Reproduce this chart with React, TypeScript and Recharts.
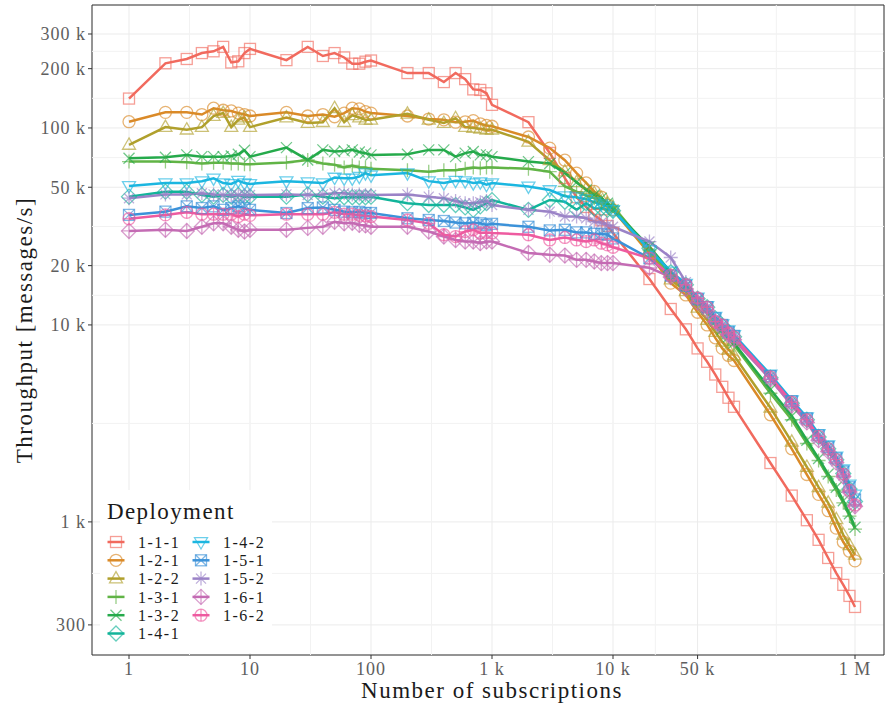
import React from "react";
import {
  LineChart,
  Line,
  XAxis,
  YAxis,
  CartesianGrid,
  ReferenceLine,
  ReferenceArea,
  Legend,
} from "recharts";

const SERIF = "'Liberation Serif', 'DejaVu Serif', serif";

// number of subscriptions (x)
const subscriptions = [
  1, 2, 3, 4, 5, 6, 7, 8, 9,
  10, 20, 30, 40, 50, 60, 70, 80, 90,
  100, 200, 300, 400, 500, 600, 700, 800, 900,
  1000, 2000, 3000, 4000, 5000, 6000, 7000, 8000, 9000,
  10000, 20000, 30000, 40000, 50000, 60000, 70000, 80000, 90000,
  100000, 200000, 300000, 400000, 500000, 600000, 700000, 800000, 900000,
  1000000,
];

// throughput in thousands of messages/s
const dep111 = [141, 213, 224, 240, 245, 258, 215, 218, 240, 252, 221, 258, 232, 240, 228, 212, 212, 217, 220, 190, 190, 171, 190, 177, 157, 156, 150, 131, 107, 74.7, 55.7, 44.5, 39.7, 36.2, 34, 31.8, 29.3, 17.1, 12.05, 9.5, 7.6, 6.5, 5.6, 4.85, 4.27, 3.84, 1.99, 1.36, 1.02, 0.811, 0.656, 0.55, 0.479, 0.421, 0.37];
const dep121 = [107.6, 120, 120, 117, 126, 123, 122, 119, 117, 115, 120, 115, 117, 114, 119, 126, 125, 121, 119, 115, 111, 110, 107, 107.5, 109, 105, 103, 102, 90, 79, 68.6, 59, 52.6, 47.6, 44.6, 40.6, 38.4, 23, 16.3, 14.2, 11.6, 10, 8.6, 7.6, 7.0, 6.6, 3.5, 2.35, 1.74, 1.38, 1.14, 0.93, 0.79, 0.71, 0.634];
const dep122 = [82, 101, 98, 101, 115, 119, 101, 110, 113, 101, 113, 106, 107, 126, 107, 116, 113, 110, 110, 118, 110, 106, 112, 101, 100, 99, 98, 98, 85, 68.6, 60, 53, 49, 46.6, 44, 41.5, 39.2, 23.5, 17, 14.8, 12.2, 10.6, 9.2, 8.2, 7.5, 7.0, 3.8, 2.55, 1.9, 1.5, 1.25, 1.03, 0.86, 0.76, 0.68];
const dep131 = [67.5, 67.5, 67, 66, 66.5, 66.5, 66, 66, 65.5, 65.5, 66.7, 68.8, 66, 65, 63, 64.5, 63, 63, 62, 61, 60, 61, 61, 62, 63, 62.5, 63, 63, 62, 60, 50.5, 47.5, 45.5, 44, 42.5, 41, 40, 24, 18, 15.3, 13, 11.6, 10.2, 9.2, 8.5, 7.9, 4.5, 3.3, 2.5, 2.05, 1.7, 1.45, 1.25, 1.07, 0.92];
const dep132 = [70.2, 71, 73, 71.5, 71.5, 71.5, 72, 73.5, 77, 71.5, 79.5, 68.8, 77.4, 76, 76.5, 77.4, 75.5, 74.5, 73, 73.5, 77.4, 77.4, 71.5, 74.5, 76, 73, 73, 71.5, 67.5, 66, 59, 53, 48.4, 45.7, 44, 41.5, 38.4, 25, 18.5, 15.8, 13.4, 12, 10.5, 9.5, 8.7, 8.1, 4.7, 3.45, 2.6, 2.1, 1.75, 1.5, 1.28, 1.1, 0.94];
const dep141 = [44.8, 47.5, 47.5, 45.7, 44.8, 45.7, 44.8, 45.7, 44.8, 44.8, 44.8, 46, 44.8, 44, 44.5, 44.5, 44.5, 44.5, 44.8, 41.5, 40.6, 40.6, 40.6, 39.5, 38.4, 40, 41.5, 43, 38.4, 43.1, 42.2, 38.4, 41.5, 39, 39, 38.4, 38, 24.5, 18.5, 16, 13.6, 12.3, 10.8, 9.9, 9.2, 8.7, 5.4, 4.0, 3.3, 2.7, 2.35, 2.07, 1.76, 1.47, 1.27];
const dep142 = [50.8, 52.5, 52.5, 53.7, 55.5, 52.5, 52, 54, 52.5, 52, 53.7, 53, 52.5, 56, 55.5, 55.5, 56.6, 59, 57.5, 59, 53.7, 52.5, 54, 53.7, 52.5, 53, 51.5, 52.5, 50.5, 48.4, 45, 44.5, 43.5, 42, 41, 40, 38.4, 24, 18.7, 16.2, 13.8, 12.5, 11, 10.1, 9.4, 8.9, 5.6, 4.15, 3.4, 2.8, 2.45, 2.15, 1.85, 1.55, 1.38];
const dep151 = [36.2, 37.6, 40, 39.2, 40, 38.4, 39.2, 40, 39.2, 38.4, 37, 39.2, 39.5, 38.4, 37.6, 37.3, 37.5, 37, 37, 34.8, 34.1, 33.7, 33.1, 32.8, 33, 32.8, 32.2, 32.6, 31.5, 30.2, 30.4, 29.5, 29.5, 29, 29, 28.7, 27.5, 21.8, 17.8, 15.8, 13.5, 12.3, 10.8, 10, 9.2, 8.8, 5.5, 4.1, 3.35, 2.75, 2.4, 2.1, 1.8, 1.5, 1.3];
const dep152 = [44, 46, 46, 46.6, 46, 45.7, 45.7, 45.7, 45.7, 45.7, 46, 45.7, 46, 46.6, 46.6, 46, 46, 45.7, 45.7, 46, 44.8, 44, 42.6, 41.5, 41.5, 42, 42.6, 40.6, 38.4, 37.6, 35.5, 35.5, 34.8, 33.5, 33, 32.2, 31.5, 26.5, 22, 16.5, 13.6, 12, 10.6, 9.8, 9.0, 8.5, 5.3, 3.95, 3.25, 2.65, 2.3, 2.03, 1.72, 1.43, 1.22];
const dep161 = [30, 30.4, 30, 31.5, 32.8, 32.8, 31.5, 30.4, 29.8, 30.4, 30.4, 31.1, 31.5, 33.4, 32.8, 33, 32.2, 32, 31.5, 31.5, 29.8, 28.1, 27, 26.5, 26.5, 26, 26.5, 26.5, 23.2, 22.7, 22.5, 21.4, 21.4, 21, 20.6, 20.6, 20.6, 19.5, 17.5, 15.2, 13, 11.8, 10.4, 9.6, 8.9, 8.4, 5.3, 3.9, 3.2, 2.6, 2.28, 2.0, 1.7, 1.42, 1.2];
const dep162 = [34.6, 36.2, 37.3, 36.5, 36.5, 36.5, 36.5, 35.5, 36.5, 36, 36.5, 36.5, 36.5, 37.3, 36.5, 36.5, 36, 35.8, 35.5, 34.1, 32.8, 28.7, 28.1, 29.8, 30.4, 29.3, 29.5, 29.3, 28.7, 27, 27.8, 27, 26.5, 27, 26, 25.5, 24.8, 21.8, 17.9, 16, 13.7, 12.3, 10.4, 10, 9.1, 8.7, 5.45, 4.05, 3.3, 2.72, 2.35, 2.07, 1.75, 1.45, 1.22];

const deployments = ["1-1-1", "1-2-1", "1-2-2", "1-3-1", "1-3-2", "1-4-1", "1-4-2", "1-5-1", "1-5-2", "1-6-1", "1-6-2"];
const seriesValues = [dep111, dep121, dep122, dep131, dep132, dep141, dep142, dep151, dep152, dep161, dep162];
const colors = ["#F16A5E", "#DA8A28", "#B0A02C", "#61B446", "#25AA4B", "#12B49A", "#1BB6E0", "#3C92D9", "#9B83C7", "#C46CB4", "#EE5BA0"];
const shapes = ["square", "circle", "triangle", "plus", "cross", "diamond", "triangleDown", "squareCross", "asterisk", "diamondPlus", "circlePlus"];

const xTicks = [1, 10, 100, 1000, 10000, 50000, 1000000];
const xMinor = [3.162, 31.62, 316.2, 3162, 22361, 223607];
const yTicks = [0.3, 1, 10, 20, 50, 100, 200, 300];
const yMinor = [0.5477, 3.162, 14.14, 31.62, 70.71, 141.4, 244.9];
const xDomain = [0.4945, 1736000];
const yDomain = [0.211, 421];

const data = subscriptions.map((x, i) => {
  const row: Record<string, number> = { x };
  deployments.forEach((d, j) => {
    row[d] = seriesValues[j][i];
  });
  return row;
});

const fmtX = (v: number) => {
  if (v >= 1000000) return `${v / 1000000} M`;
  if (v >= 1000) return `${v / 1000} k`;
  return `${v}`;
};
const fmtY = (v: number) => (v >= 1 ? `${v} k` : `${Math.round(v * 1000)}`);

const tickStyle = { fill: "#5e5e5e", fontSize: 18, fontFamily: SERIF, letterSpacing: 1 };
const titleStyle = { fontFamily: SERIF, fontSize: 23, letterSpacing: 1.5, fill: "#1a1a1a" };

function Marker({ shape, cx, cy, color, opacity = 0.65 }: any) {
  const s = { fill: "none", stroke: color, strokeWidth: 1.3, strokeOpacity: opacity };
  const r = 5.5;
  switch (shape) {
    case "square":
      return <rect x={cx - r} y={cy - r} width={2 * r} height={2 * r} {...s} />;
    case "circle":
      return <circle cx={cx} cy={cy} r={6} {...s} />;
    case "triangle":
      return <polygon points={`${cx},${cy - 7} ${cx + 6.5},${cy + 4.3} ${cx - 6.5},${cy + 4.3}`} {...s} />;
    case "triangleDown":
      return <polygon points={`${cx},${cy + 7} ${cx + 6.5},${cy - 4.3} ${cx - 6.5},${cy - 4.3}`} {...s} />;
    case "plus":
      return <path d={`M${cx - 7},${cy}H${cx + 7}M${cx},${cy - 7}V${cy + 7}`} {...s} />;
    case "cross":
      return <path d={`M${cx - 5.5},${cy - 5.5}L${cx + 5.5},${cy + 5.5}M${cx - 5.5},${cy + 5.5}L${cx + 5.5},${cy - 5.5}`} {...s} />;
    case "diamond":
      return <polygon points={`${cx},${cy - 7.5} ${cx + 7.5},${cy} ${cx},${cy + 7.5} ${cx - 7.5},${cy}`} {...s} />;
    case "squareCross":
      return (
        <g>
          <rect x={cx - r} y={cy - r} width={2 * r} height={2 * r} {...s} />
          <path d={`M${cx - r},${cy - r}L${cx + r},${cy + r}M${cx - r},${cy + r}L${cx + r},${cy - r}`} {...s} />
        </g>
      );
    case "asterisk":
      return (
        <path
          d={`M${cx - 7},${cy}H${cx + 7}M${cx},${cy - 7}V${cy + 7}M${cx - 5},${cy - 5}L${cx + 5},${cy + 5}M${cx - 5},${cy + 5}L${cx + 5},${cy - 5}`}
          {...s}
        />
      );
    case "diamondPlus":
      return (
        <g>
          <polygon points={`${cx},${cy - 7.5} ${cx + 7.5},${cy} ${cx},${cy + 7.5} ${cx - 7.5},${cy}`} {...s} />
          <path d={`M${cx - 7.5},${cy}H${cx + 7.5}M${cx},${cy - 7.5}V${cy + 7.5}`} {...s} />
        </g>
      );
    case "circlePlus":
      return (
        <g>
          <circle cx={cx} cy={cy} r={6} {...s} />
          <path d={`M${cx - 6},${cy}H${cx + 6}M${cx},${cy - 6}V${cy + 6}`} {...s} />
        </g>
      );
    default:
      return null;
  }
}

function DeploymentLegend() {
  const rowY = (i: number) => 52 + i * 18.3;
  return (
    <svg width={172} height={163} style={{ display: "block" }}>
      <text x={7} y={29} fontFamily={SERIF} fontSize={23} letterSpacing={1.4} fill="#1a1a1a">
        Deployment
      </text>
      {deployments.map((d, i) => {
        const col = i < 6 ? 0 : 1;
        const row = i < 6 ? i : i - 6;
        const kx = col === 0 ? 16 : 101;
        const tx = col === 0 ? 38 : 123;
        const cy = rowY(row);
        return (
          <g key={d}>
            <line x1={kx - 8.5} x2={kx + 8.5} y1={cy} y2={cy} stroke={colors[i]} strokeWidth={2.5} />
            <Marker shape={shapes[i]} cx={kx} cy={cy} color={colors[i]} />
            <text x={tx} y={cy + 5.8} fontFamily={SERIF} fontSize={16} letterSpacing={1.5} fill="#1a1a1a">
              {d}
            </text>
          </g>
        );
      })}
    </svg>
  );
}

export default function App() {
  return (
    <div style={{ position: "absolute", left: 0, top: 0, width: 887, height: 708, background: "#fff" }}>
      <LineChart width={887} height={708} data={data} margin={{ top: 5, right: 3, bottom: 0, left: 0 }}>
        <CartesianGrid stroke="#ebebeb" strokeWidth={1} />
        {xMinor.map((v) => (
          <ReferenceLine key={`xm${v}`} x={v} stroke="#f2f2f2" strokeWidth={1} />
        ))}
        {yMinor.map((v) => (
          <ReferenceLine key={`ym${v}`} y={v} stroke="#f2f2f2" strokeWidth={1} />
        ))}
        <XAxis
          dataKey="x"
          type="number"
          scale="log"
          domain={xDomain}
          allowDataOverflow
          ticks={xTicks}
          tickFormatter={fmtX}
          height={53}
          axisLine={false}
          tickSize={4}
          tickMargin={3}
          tickLine={{ stroke: "#333333" }}
          tick={tickStyle}
          label={{
            value: "Number of subscriptions",
            position: "insideBottom",
            offset: 10,
            dx: 4,
            style: titleStyle,
          }}
        />
        <YAxis
          type="number"
          scale="log"
          domain={yDomain}
          allowDataOverflow
          ticks={yTicks}
          tickFormatter={fmtY}
          width={92}
          axisLine={false}
          tickSize={4}
          tickMargin={2}
          tickLine={{ stroke: "#333333" }}
          tick={tickStyle}
          label={{
            value: "Throughput [messages/s]",
            angle: -90,
            position: "insideLeft",
            offset: 24,
            style: { ...titleStyle, textAnchor: "middle" },
          }}
        />
        {deployments.map((d, i) => (
          <Line
            key={`line-${d}`}
            dataKey={d}
            stroke={colors[i]}
            strokeWidth={2.5}
            dot={false}
            activeDot={false}
            isAnimationActive={false}
          />
        ))}
        {deployments.map((d, i) => (
          <Line
            key={`pts-${d}`}
            dataKey={d}
            stroke="none"
            strokeWidth={0}
            activeDot={false}
            legendType="none"
            isAnimationActive={false}
            dot={(p: any) => (
              <Marker key={`${d}-${p.index}`} shape={shapes[i]} cx={p.cx} cy={p.cy} color={colors[i]} />
            )}
          />
        ))}
        <ReferenceArea
          x1={xDomain[0]}
          x2={xDomain[1]}
          y1={yDomain[0]}
          y2={yDomain[1]}
          fill="none"
          stroke="#333333"
          strokeWidth={1}
          ifOverflow="visible"
        />
        <Legend
          layout="vertical"
          align="center"
          verticalAlign="middle"
          wrapperStyle={{ left: 100, top: 490, width: 172, height: 163, background: "#fff" }}
          content={() => <DeploymentLegend />}
        />
      </LineChart>
    </div>
  );
}
